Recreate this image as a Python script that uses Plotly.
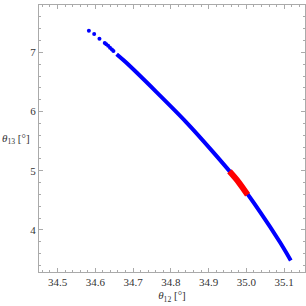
import plotly.graph_objects as go

# main blue curve (theta12, theta13)
blue_x = [34.6565, 34.6802, 34.7620, 34.8404, 34.9119, 34.9792, 35.0364, 35.0884, 35.1174]
blue_y = [6.968, 6.836, 6.329, 5.823, 5.316, 4.809, 4.302, 3.796, 3.486]
# sparse dots at the upper end
dot_x = [34.583, 34.597, 34.611, 34.625, 34.629, 34.634, 34.639, 34.644, 34.648]
dot_y = [7.365, 7.309, 7.23, 7.16, 7.135, 7.11, 7.08, 7.05, 7.025]
# red highlighted segment
red_x = [34.955, 34.9792, 35.003]
red_y = [4.99, 4.809, 4.595]

font = dict(family="Liberation Serif, Times New Roman, serif", size=11, color="#333")

fig = go.Figure()
fig.add_trace(go.Scatter(x=blue_x, y=blue_y, mode="lines",
                         line=dict(color="#0000ff", width=4, shape="spline", smoothing=0.8)))
fig.add_trace(go.Scatter(x=dot_x, y=dot_y, mode="markers",
                         marker=dict(color="#0000ff", size=4)))
fig.add_trace(go.Scatter(x=red_x, y=red_y, mode="lines",
                         line=dict(color="#ff0000", width=6, shape="spline", smoothing=0.8)))

axis_common = dict(showline=True, mirror="ticks", linecolor="#aaaaaa", linewidth=1,
                   ticks="inside", ticklen=4, tickcolor="#aaaaaa", showgrid=False,
                   zeroline=False, tickfont=font)
fig.update_xaxes(range=[34.451, 35.155], tickvals=[34.5, 34.6, 34.7, 34.8, 34.9, 35.0, 35.1],
                 ticktext=["34.5", "34.6", "34.7", "34.8", "34.9", "35.0", "35.1"],
                 minor=dict(ticks="inside", ticklen=2, dtick=0.02, tick0=34.5, tickcolor="#aaaaaa"),
                 title=dict(text="<i>θ</i><sub>12</sub> [°]", font=font, standoff=4),
                 **axis_common)
fig.update_yaxes(range=[3.29, 7.8], tickvals=[4, 5, 6, 7],
                 minor=dict(ticks="inside", ticklen=2, dtick=0.2, tick0=4, tickcolor="#aaaaaa"),
                 **axis_common)
fig.add_annotation(text="<i>θ</i><sub>13</sub> [°]", xref="paper", yref="paper",
                   x=-0.147, y=0.5, xanchor="left", yanchor="middle",
                   showarrow=False, font=font)
fig.update_layout(width=306, height=306, margin=dict(l=39, r=1, t=5, b=34),
                  plot_bgcolor="white", paper_bgcolor="white", showlegend=False,
                  font=font)
fig.write_html("out.html", config={"displayModeBar": False})

with open("out.html", "r", encoding="utf-8") as f:
    html = f.read()
html = html.replace("<head>", "<head><style>html,body{margin:0;padding:0;overflow:hidden;}</style>", 1)
with open("out.html", "w", encoding="utf-8") as f:
    f.write(html)
